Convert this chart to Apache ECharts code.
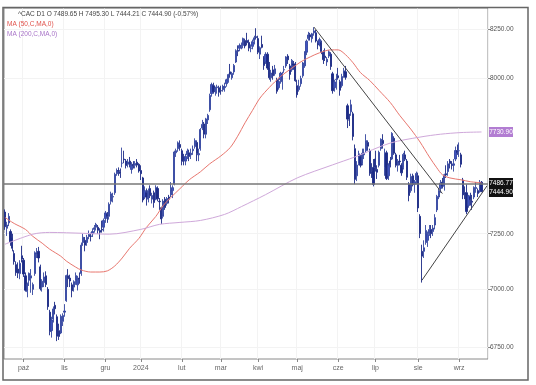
<!DOCTYPE html>
<html><head><meta charset="utf-8">
<script src="https://cdn.jsdelivr.net/npm/echarts@6/dist/echarts.min.js"></script>
<style>html,body{margin:0;padding:0;background:#fff}#c{width:536px;height:385px}</style>
</head><body><div id="c"></div><script>
// ---- daily bars: [day, open, high, low, close] ----
const sep23 = [[18,7350,7362,7268,7282],[19,7275,7305,7240,7290],[20,7300,7345,7285,7330],[21,7260,7270,7195,7214],[22,7230,7250,7170,7184],[25,7160,7175,7110,7124],[26,7110,7125,7060,7074],[27,7090,7120,7050,7072],[28,7070,7130,7045,7116],[29,7150,7195,7120,7135]];
const oct23 = [[2,7130,7140,7055,7068],[3,7060,7075,6990,6996],[4,6990,7030,6965,7024],[5,7040,7075,7015,7071],[6,7050,7090,6985,7060],[9,7000,7030,6975,7021],[10,7070,7170,7060,7163],[11,7160,7185,7140,7163],[12,7170,7190,7120,7140],[13,7100,7110,6995,7003],[16,7010,7045,6990,7036],[17,7030,7075,7010,7055],[18,7060,7080,7010,7022],[19,7000,7010,6910,6924],[20,6900,6910,6800,6816],[23,6820,6880,6790,6866],[24,6870,6925,6855,6914],[25,6930,6945,6890,6915],[26,6880,6890,6775,6796],[27,6820,6850,6780,6795],[30,6810,6890,6805,6882],[31,6860,6895,6840,6885]];
const nov23 = [[1,6900,6935,6880,6905],[2,6950,7065,6945,7061],[3,7060,7090,7010,7047],[6,7050,7065,7010,7037],[7,7020,7030,6965,6994],[8,7010,7040,6990,7034],[9,7040,7075,7020,7061],[10,7020,7060,6995,7045],[13,7050,7075,7025,7045],[14,7070,7210,7060,7198],[15,7210,7250,7195,7234],[16,7220,7235,7170,7198],[17,7210,7245,7195,7234],[20,7240,7265,7225,7247],[21,7240,7255,7215,7238],[22,7250,7275,7235,7260],[23,7270,7290,7255,7277],[24,7280,7300,7265,7293],[27,7280,7290,7250,7266],[28,7265,7275,7225,7257],[29,7270,7310,7255,7267],[30,7280,7320,7260,7311]];
const dec23 = [[1,7320,7355,7300,7346],[4,7340,7350,7300,7331],[5,7330,7395,7315,7386],[6,7400,7445,7385,7435],[7,7420,7440,7395,7422],[8,7440,7535,7430,7527],[11,7530,7555,7520,7545],[12,7545,7560,7520,7544],[13,7540,7555,7510,7531],[14,7580,7655,7560,7580],[15,7600,7640,7580,7597],[18,7590,7600,7555,7569],[19,7575,7600,7560,7586],[20,7590,7610,7560,7573],[21,7550,7585,7530,7571],[22,7575,7590,7555,7569],[27,7570,7590,7555,7579],[28,7585,7600,7560,7571],[29,7575,7580,7535,7543]];
const jan24 = [[2,7545,7570,7500,7530],[3,7510,7515,7395,7406],[4,7420,7470,7410,7450],[5,7440,7460,7380,7420],[8,7410,7460,7395,7450],[9,7460,7475,7415,7426],[10,7410,7440,7390,7427],[11,7440,7450,7370,7394],[12,7410,7475,7405,7465],[15,7460,7470,7400,7412],[16,7400,7415,7360,7398],[17,7370,7375,7295,7318],[18,7330,7410,7320,7401],[19,7410,7420,7360,7371],[22,7390,7420,7380,7413],[23,7420,7430,7390,7410],[24,7430,7490,7420,7456],[25,7450,7475,7415,7464],[26,7480,7640,7475,7634],[29,7630,7650,7610,7640],[30,7650,7685,7635,7678],[31,7670,7690,7640,7656]];
const feb24 = [[1,7640,7650,7570,7589],[2,7610,7625,7570,7592],[5,7590,7625,7570,7612],[6,7620,7650,7600,7638],[7,7630,7645,7590,7612],[8,7620,7650,7600,7628],[9,7640,7665,7620,7647],[12,7660,7700,7650,7689],[13,7680,7690,7590,7626],[14,7620,7650,7590,7626],[15,7650,7750,7640,7743],[16,7750,7790,7740,7768],[19,7770,7780,7700,7720],[20,7720,7800,7700,7795],[21,7790,7820,7770,7812],[22,7840,7920,7830,7911],[23,7920,7975,7905,7966],[26,7960,7975,7920,7930],[27,7930,7955,7910,7948],[28,7950,7965,7920,7954],[29,7950,7960,7905,7927]];
const mar24 = [[1,7935,7960,7915,7934],[4,7940,7965,7930,7957],[5,7950,7975,7930,7956],[6,7970,7995,7955,7990],[7,7990,8020,7975,8016],[8,8030,8070,8000,8018],[11,8000,8030,7990,8022],[12,8030,8070,8015,8062],[13,8080,8145,8075,8138],[14,8140,8165,8110,8135],[15,8150,8175,8135,8164],[18,8160,8180,8145,8166],[19,8165,8205,8150,8201],[20,8190,8200,8150,8162],[21,8190,8230,8165,8179],[22,8180,8195,8135,8151],[25,8150,8170,8130,8151],[26,8160,8195,8145,8184],[27,8190,8215,8170,8204],[28,8210,8254,8195,8206]];
const apr24 = [[2,8200,8215,8120,8130],[3,8120,8160,8095,8153],[4,8170,8215,8150,8155],[5,8100,8110,8040,8062],[8,8080,8130,8070,8119],[9,8120,8130,8040,8049],[10,8050,8080,7990,8000],[11,8000,8040,7980,8024],[12,8040,8060,7990,8010],[15,8020,8065,8010,8045],[16,7990,8000,7920,7932],[17,7950,8000,7940,7981],[18,7990,8030,7970,8023],[19,7980,8030,7940,8022],[22,8040,8060,8025,8041],[23,8060,8110,8050,8106],[24,8110,8120,8070,8091],[25,8060,8070,7990,8017],[26,8040,8095,8030,8088],[29,8070,8085,8040,8064],[30,8070,8080,7980,7985]];
const may24 = [[2,7960,7990,7900,7915],[3,7940,7990,7930,7957],[6,7970,8010,7955,7996],[7,8010,8080,8000,8075],[8,8060,8135,8050,8131],[9,8130,8195,8115,8187],[10,8200,8235,8190,8219],[13,8220,8230,8190,8209],[14,8200,8230,8180,8225],[15,8230,8259,8215,8240],[16,8230,8245,8180,8188],[17,8180,8190,8145,8167],[20,8170,8205,8160,8195],[21,8180,8190,8120,8133],[22,8130,8140,8070,8092],[23,8110,8150,8085,8102],[24,8080,8105,8060,8094],[27,8110,8140,8100,8132],[28,8120,8130,8040,8057],[29,8020,8030,7920,7935],[30,7950,7990,7930,7979],[31,7990,8020,7940,7992]];
const jun24 = [[3,8010,8050,7990,8000],[4,7980,7990,7910,7937],[5,7960,8020,7950,8006],[6,8020,8050,8000,8035],[7,8030,8060,7990,8002],[10,7860,7870,7750,7794],[11,7790,7820,7760,7789],[12,7830,7890,7810,7865],[13,7820,7830,7690,7709],[14,7650,7670,7480,7503],[17,7520,7590,7495,7571],[18,7580,7640,7570,7625],[19,7610,7620,7560,7570],[20,7580,7650,7570,7628],[21,7620,7650,7600,7629],[24,7640,7720,7630,7689],[25,7680,7690,7640,7662],[26,7640,7650,7520,7531],[27,7540,7580,7510,7530],[28,7560,7600,7470,7479]];
const jul24 = [[1,7600,7640,7540,7562],[2,7550,7570,7505,7537],[3,7570,7640,7560,7632],[4,7650,7700,7640,7695],[5,7690,7720,7650,7675],[8,7560,7650,7520,7628],[9,7630,7640,7500,7507],[10,7520,7580,7500,7571],[11,7590,7610,7560,7573],[12,7600,7730,7595,7724],[15,7700,7710,7620,7628],[16,7620,7630,7560,7570],[17,7570,7600,7540,7586],[18,7590,7620,7570,7587],[19,7570,7580,7520,7534],[22,7560,7630,7550,7622],[23,7620,7640,7590,7599],[24,7590,7600,7500,7513],[25,7480,7490,7400,7427],[26,7450,7530,7440,7517],[29,7520,7530,7470,7478],[30,7480,7500,7440,7492],[31,7500,7540,7480,7531]];
const aug24 = [[1,7520,7535,7350,7369],[2,7330,7340,7230,7251],[5,7170,7200,7030,7148],[6,7170,7220,7140,7186],[7,7210,7290,7200,7265],[8,7220,7260,7190,7247],[9,7250,7290,7240,7269],[12,7270,7290,7230,7250],[13,7260,7290,7240,7276],[14,7290,7340,7270,7324],[15,7360,7430,7350,7423],[16,7420,7460,7410,7449],[19,7460,7500,7440,7485],[20,7490,7510,7460,7472],[21,7470,7530,7450,7525],[22,7530,7570,7510,7524],[23,7540,7590,7520,7577],[26,7590,7600,7555,7579],[27,7570,7590,7550,7570],[28,7570,7600,7540,7577],[29,7600,7660,7590,7641],[30,7640,7670,7620,7631]];
const sep24 = [[2,7640,7680,7610,7640],[3,7620,7630,7560,7575],[4,7500,7510,7410,7430],[5,7440,7470,7410,7431],[6,7440,7480,7340,7352],[9,7380,7430,7370,7426],[10,7420,7440,7380,7408],[11,7400,7430,7360,7396],[12,7420,7470,7410,7465],[13,7460,7490,7440,7465],[16,7450,7460,7420,7437],[17,7450,7500,7440,7487.88],[18,7489.65,7495.30,7444.21,7444.90]];

// month axis labels (first trading day of Oct 2023 ... Sep 2024)
const monthLabels = ['paź','lis','gru','2024','lut','mar','kwi','maj','cze','lip','sie','wrz'];
// y tick labels
const yTicks = [6750, 7000, 7250, 8000, 8250];

// moving averages: [bar index, value]
const ma50 = [[0,7325],[5,7297],[11,7270],[15,7238],[20,7207],[24,7180],[30,7148],[33,7126],[38,7099],[41,7086],[46,7077],[51,7077],[55,7082],[59,7104],[63,7140],[67,7184],[72,7229],[76,7279],[81,7329],[85,7380],[89,7417],[94,7459],[99,7501],[105,7539],[110,7577],[116,7615],[121,7655],[125,7710],[129,7776],[133,7837],[137,7898],[142,7951],[148,8006],[153,8041],[159,8081],[164,8106],[169,8127],[175,8142],[179,8142],[183,8117],[187,8076],[191,8026],[196,7986],[201,7936],[207,7876],[212,7813],[218,7745],[223,7682],[228,7610],[232,7558],[235,7525],[239,7510],[245,7501],[250,7492],[256,7486.77]];
const ma200 = [[0,7202],[15,7248],[24,7256],[42,7252],[56,7248],[73,7270],[83,7293],[94,7302],[105,7311],[118,7339],[127,7375],[140,7431],[157,7510],[176,7572],[188,7610],[207,7677],[223,7706],[234,7720],[245,7728],[256,7730.90]];

// drawn lines
const hLineLevel = 7486.77;
const trendDown = [[166,8260],[235,7436]];
const trendUp = [[224,7040],[259,7473]];

// ---- build ----
const LN = Math.log;
const months = [['2023-09',sep23],['2023-10',oct23],['2023-11',nov23],['2023-12',dec23],['2024-01',jan24],['2024-02',feb24],['2024-03',mar24],['2024-04',apr24],['2024-05',may24],['2024-06',jun24],['2024-07',jul24],['2024-08',aug24],['2024-09',sep24]];
const cats = [], candles = [], labelAt = {};
months.forEach(([ym, rows], m) => {
  rows.forEach((r, k) => {
    if (k === 0 && m > 0) labelAt[cats.length] = monthLabels[m - 1];
    cats.push(ym + '-' + String(r[0]).padStart(2, '0'));
    candles.push([LN(r[1]), LN(r[4]), LN(r[3]), LN(r[2])]);
  });
});
for (let k = 0; k < 3; k++) cats.push('');
const isMonth = (i) => labelAt[i] !== undefined;
const allRows = months.flatMap(m => m[1]);
const last = allRows[allRows.length - 1], prev = allRows[allRows.length - 2];
const pct = (last[4] / prev[4] - 1) * 100;
const header = '^CAC D1 O ' + last[1].toFixed(2) + ' H ' + last[2].toFixed(2) + ' L ' + last[3].toFixed(2) + ' C ' + last[4].toFixed(2) + ' (' + pct.toFixed(2) + '%)';
const toLn = arr => arr.map(([i, v]) => [i, LN(v)]);
const lastMa200 = ma200[ma200.length - 1][1];

const FONT = '"Liberation Sans", Arial, sans-serif';

const chart = echarts.init(document.getElementById('c'), null, { renderer: 'canvas' });
const baseGraphic = [
  { id: 'frame', type: 'rect', shape: { x: 3, y: 7.5, width: 525, height: 372.5 }, style: { fill: null, stroke: '#666', lineWidth: 1.5 }, silent: true, z: 10 },
  { id: 'hdr', type: 'text', left: 18, top: 11, style: { text: header, fontSize: 6.5, fill: '#444', fontFamily: FONT }, z: 10 },
  { id: 'ma50t', type: 'text', left: 7, top: 21, style: { text: 'MA (50,C,MA,0)', fontSize: 6.5, fill: '#e0514a', fontFamily: FONT }, z: 10 },
  { id: 'ma200t', type: 'text', left: 7, top: 31, style: { text: 'MA (200,C,MA,0)', fontSize: 6.5, fill: '#a874c8', fontFamily: FONT }, z: 10 }
];
chart.setOption({
  animation: false,
  backgroundColor: '#fff',
  grid: { left: 4, top: 8, width: 484, height: 351, show: true, borderColor: '#8a8a8a', borderWidth: 1 },
  xAxis: {
    type: 'category', data: cats, boundaryGap: true,
    axisLine: { show: false },
    axisTick: { show: true, alignWithLabel: true, length: 3, interval: (i) => isMonth(i), lineStyle: { color: '#888' } },
    axisLabel: { interval: (i) => isMonth(i), formatter: (v, i) => labelAt[i] || '', fontSize: 7, color: '#666', margin: 6, fontFamily: FONT },
    splitLine: { show: true, interval: (i) => isMonth(i), lineStyle: { color: '#f3f3f3', width: 1 } }
  },
  yAxis: {
    type: 'value', position: 'right', min: LN(6699), max: LN(8360),
    axisLine: { show: false },
    axisTick: { show: true, length: 3, customValues: yTicks.map(LN), lineStyle: { color: '#888' } },
    axisLabel: { customValues: yTicks.map(LN), formatter: v => Math.exp(v).toFixed(2), fontSize: 6.5, color: '#555', margin: 2, fontFamily: FONT },
    splitLine: { show: true, lineStyle: { color: '#f3f3f3' } }
  },
  series: [
    {
      type: 'candlestick', data: candles, barWidth: 1.7,
      itemStyle: { color: '#3f52c0', color0: '#1c2a86', borderColor: '#34469f', borderColor0: '#1c2a86', borderWidth: 0.9 },
      markLine: {
        silent: true, symbol: ['none', 'none'], label: { show: false },
        data: [{ yAxis: LN(hLineLevel), lineStyle: { color: '#777', width: 1.5, type: 'solid' } }]
      },
      z: 3
    },
    { name: 'MA50', type: 'line', data: toLn(ma50), showSymbol: false, smooth: 0.3, lineStyle: { color: '#e8776f', width: 1 }, z: 4 },
    { name: 'MA200', type: 'line', data: toLn(ma200), showSymbol: false, smooth: 0.3, lineStyle: { color: '#cfa8da', width: 1 }, z: 4 },
    { type: 'line', data: toLn(trendDown), showSymbol: false, lineStyle: { color: '#444', width: 1 }, z: 5 },
    { type: 'line', data: toLn(trendUp), showSymbol: false, lineStyle: { color: '#444', width: 1 }, z: 5 }
  ],
  graphic: baseGraphic
});

// price badges on the right axis, positioned via the chart's own y scale
const badgeDefs = [[lastMa200, '#b27dd2'], [hLineLevel, '#111'], [last[4], '#111']];
const badgeEls = badgeDefs.map(([v, bg], k) => {
  const y = chart.convertToPixel({ yAxisIndex: 0 }, LN(v));
  return {
    id: 'badge' + k, type: 'group', x: 489, y: Math.round(y) - 5, z: 20,
    children: [
      { type: 'rect', shape: { x: 0, y: 0, width: 24, height: 10 }, style: { fill: bg } },
      { type: 'text', x: 12, y: 5.5, style: { text: v.toFixed(2), fontSize: 6.5, fill: '#fff', fontFamily: FONT, align: 'center', verticalAlign: 'middle' } }
    ]
  };
});
chart.setOption({ graphic: baseGraphic.concat(badgeEls) });
</script></body></html>
